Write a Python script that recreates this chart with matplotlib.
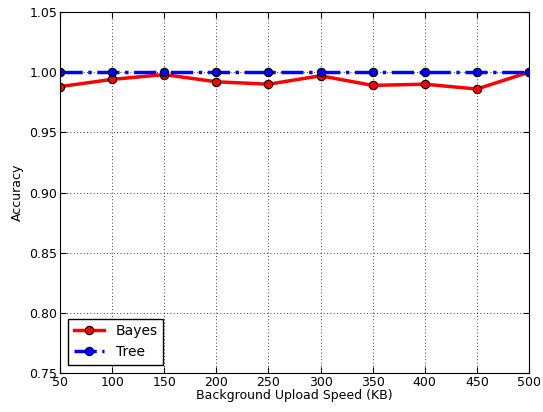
import matplotlib
matplotlib.use('Agg')
import matplotlib.pyplot as plt

speed = [50, 100, 150, 200, 250, 300, 350, 400, 450, 500]
bayes = [0.988, 0.994, 0.998, 0.992, 0.990, 0.997, 0.989, 0.990, 0.986, 1.000]
tree = [1.0, 1.0, 1.0, 1.0, 1.0, 1.0, 1.0, 1.0, 1.0, 1.0]

fig = plt.figure(figsize=(5.43, 4.12), dpi=100)
ax = fig.add_axes([60/543, 39/412, 469/543, 361/412])
ax.plot(speed, bayes, '-o', color='r', linewidth=2.5, markersize=6,
        markeredgecolor='k', markeredgewidth=0.8, label='Bayes')
ax.plot(speed, tree, '-.o', color='b', linewidth=2.5, markersize=6,
        markeredgecolor='k', markeredgewidth=0.8, label='Tree')
ax.set_xlim(50, 500)
ax.set_ylim(0.75, 1.05)
ax.set_xticks(speed)
yt = [0.75, 0.80, 0.85, 0.90, 0.95, 1.00, 1.05]
ax.set_yticks(yt)
ax.set_yticklabels(['%.2f' % v for v in yt])
ax.grid(True, color='k', linewidth=0.6, dashes=(1, 3))
ax.tick_params(labelsize=9, direction='in', length=4, pad=2, top=True, right=True)
ax.set_xlabel('Background Upload Speed (KB)', fontsize=9, labelpad=0)
ax.set_ylabel('Accuracy', fontsize=9, labelpad=4)
leg = ax.legend(loc='lower left', fontsize=10, fancybox=False, framealpha=1,
                edgecolor='k', borderaxespad=0.6, handlelength=2.2)
leg.get_frame().set_linewidth(1)
fig.savefig('out.png', dpi=100)
